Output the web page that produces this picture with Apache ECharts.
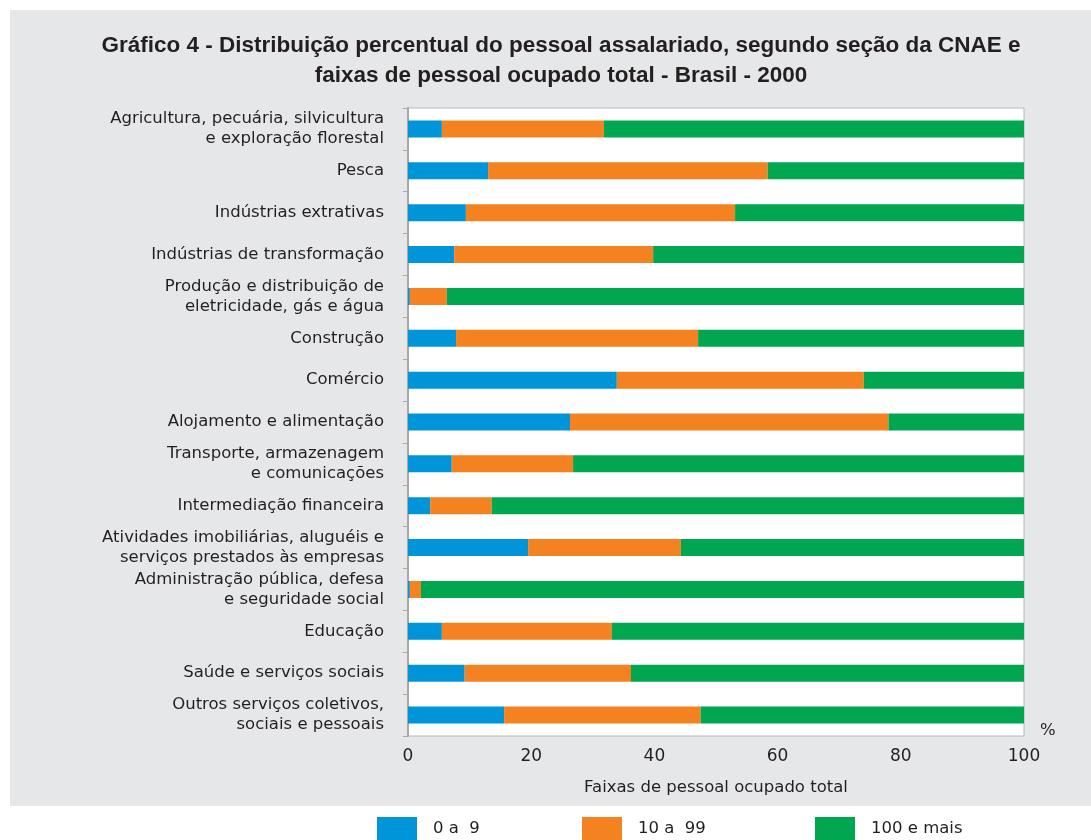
<!DOCTYPE html>
<html>
<head>
<meta charset="utf-8">
<script src="https://cdn.jsdelivr.net/npm/echarts@6/dist/echarts.min.js"></script>
<style>
  html, body { margin: 0; padding: 0; background: #fff; }
  #chart { width: 1091px; height: 840px; }
</style>
</head>
<body>
<div id="chart"></div>
<script>
// secoes da CNAE, de cima para baixo
const secoes = [
  'Agricultura, pecuária, silvicultura\ne exploração florestal',
  'Pesca',
  'Indústrias extrativas',
  'Indústrias de transformação',
  'Produção e distribuição de\neletricidade, gás e água',
  'Construção',
  'Comércio',
  'Alojamento e alimentação',
  'Transporte, armazenagem\ne comunicações',
  'Intermediação financeira',
  'Atividades imobiliárias, aluguéis e\nserviços prestados às empresas',
  'Administração pública, defesa\ne seguridade social',
  'Educação',
  'Saúde e serviços sociais',
  'Outros serviços coletivos,\nsociais e pessoais'
];

// % do pessoal assalariado por faixa
const faixa0a9    = [5.5, 13.0, 9.4, 7.5, 0.3, 7.8, 33.9, 26.3, 7.1, 3.6, 19.5, 0.3, 5.5, 9.2, 15.6];
const faixa10a99  = [26.3, 45.4, 43.7, 32.3, 6.0, 39.3, 40.1, 51.7, 19.7, 10.0, 24.8, 1.8, 27.6, 27.0, 31.9];
const faixa100    = [68.2, 41.6, 46.9, 60.2, 93.7, 52.9, 26.0, 22.0, 73.2, 86.4, 55.7, 97.9, 66.9, 63.8, 52.5];

const nomes = ['0 a  9', '10 a  99', '100 e mais'];
const cores = ['#0095d9', '#f58220', '#00a650'];

const fonte = 'DejaVu Sans';
const chart = echarts.init(document.getElementById('chart'));

function legenda(nome, x) {
  return {
    data: [nome],
    left: x,
    top: 812,
    itemWidth: 40,
    itemHeight: 24,
    icon: 'rect',
    selectedMode: false,
    textStyle: { fontFamily: fonte, fontSize: 16.5, color: '#231f20', padding: [0, 0, 0, 11] }
  };
}

chart.setOption({
  animation: false,
  textStyle: { fontFamily: fonte },
  title: {
    text: 'Gráfico 4 - Distribuição percentual do pessoal assalariado, segundo seção da CNAE e\nfaixas de pessoal ocupado total - Brasil - 2000',
    left: 556,
    top: 26,
    textAlign: 'center',
    textStyle: {
      fontFamily: 'Liberation Sans',
      fontSize: 22.5,
      fontWeight: 'bold',
      color: '#231f20',
      lineHeight: 30
    }
  },
  graphic: [
    { type: 'rect', z: -10, silent: true, shape: { x: 10, y: 10, width: 1081, height: 796 }, style: { fill: '#e6e7e9' } },
    { type: 'text', z: 10, left: 1040, top: 722, style: { text: '%', fontFamily: fonte, fontSize: 16.5, fill: '#231f20' } }
  ],
  legend: [
    legenda(nomes[0], 372),
    legenda(nomes[1], 577),
    legenda(nomes[2], 810)
  ],
  grid: {
    left: 408,
    right: 67,
    top: 108,
    bottom: 104,
    show: true,
    backgroundColor: '#ffffff',
    borderColor: '#b8b8b8',
    borderWidth: 1
  },
  xAxis: {
    type: 'value',
    min: 0,
    max: 100,
    interval: 20,
    splitLine: { show: false },
    axisLine: { show: false },
    axisTick: { show: false },
    axisLabel: { margin: 12, fontSize: 17, color: '#231f20' },
    name: 'Faixas de pessoal ocupado total',
    nameLocation: 'middle',
    nameGap: 43,
    nameTextStyle: { fontSize: 16.5, color: '#231f20' }
  },
  yAxis: {
    type: 'category',
    inverse: true,
    data: secoes,
    axisLine: { show: true, lineStyle: { color: '#a8a8a8', width: 2 } },
    axisTick: { show: true, length: 5, lineStyle: { color: '#a8a8a8' } },
    axisLabel: { margin: 24, fontSize: 16.5, lineHeight: 20, color: '#231f20', align: 'right' }
  },
  series: [
    { name: nomes[0], type: 'bar', stack: 'total', barWidth: 17, data: faixa0a9, itemStyle: { color: cores[0] } },
    { name: nomes[1], type: 'bar', stack: 'total', barWidth: 17, data: faixa10a99, itemStyle: { color: cores[1] } },
    { name: nomes[2], type: 'bar', stack: 'total', barWidth: 17, data: faixa100, itemStyle: { color: cores[2] } }
  ]
});
</script>
</body>
</html>
